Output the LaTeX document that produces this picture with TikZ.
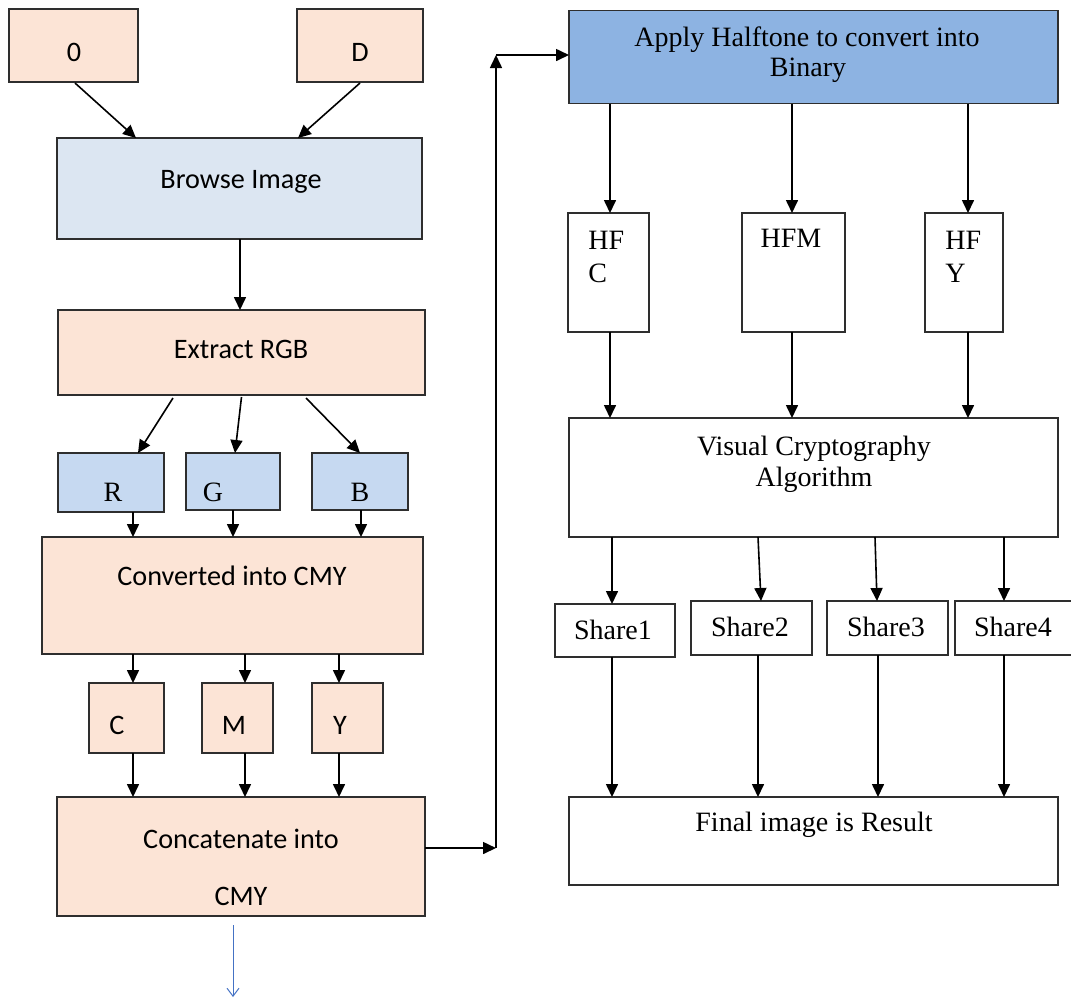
\documentclass[tikz,border=0pt]{standalone}
\usepackage{fontspec}
\setmainfont{Liberation Serif}
\newfontfamily\calfont{Carlito}
\usetikzlibrary{arrows.meta,calc}
\definecolor{peach}{HTML}{FCE4D6}
\definecolor{paleblue}{HTML}{DCE6F2}
\definecolor{rgbblue}{HTML}{C6D9F1}
\definecolor{applyblue}{HTML}{8DB3E2}
\definecolor{linkblue}{HTML}{4472C4}
\begin{document}
\begin{tikzpicture}[x=0.5pt,y=-0.5pt,
  box/.style={draw=black!82, line width=0.85pt, inner sep=0pt, outer sep=0pt},
  arr/.style={-{Triangle[length=6.5pt,width=6pt]}, line width=0.8pt, draw=black},
  ctxt/.style={anchor=base, inner sep=0pt, font=\calfont\fontsize{14.1}{16}\selectfont},
  ttxt/.style={anchor=base, inner sep=0pt, font=\fontsize{14}{16}\selectfont},
  ltxt/.style={anchor=base west, inner sep=0pt, font=\fontsize{14}{16}\selectfont}]
\useasboundingbox (0,0) rectangle (1071,998);
% ---------------- left column boxes
\node[box, fill=peach, minimum width=64.5pt, minimum height=36.5pt] (o) at (73.5,45.5) {};
\node[box, fill=peach, minimum width=63pt, minimum height=36.5pt] (d) at (360,45.5) {};
\node[box, fill=paleblue, minimum width=182.5pt, minimum height=50.5pt] (browse) at (239.5,188.5) {};
\node[box, fill=peach, minimum width=183.5pt, minimum height=42.5pt] (extract) at (241.5,352.5) {};
\node[box, fill=rgbblue, minimum width=53pt, minimum height=29.5pt] (r) at (111,482.5) {};
\node[box, fill=rgbblue, minimum width=47pt, minimum height=28.5pt] (g) at (233,481.5) {};
\node[box, fill=rgbblue, minimum width=48pt, minimum height=28.5pt] (b) at (360,481.5) {};
\node[box, fill=peach, minimum width=190.5pt, minimum height=58.5pt] (conv) at (232.5,595.5) {};
\node[box, fill=peach, minimum width=37.5pt, minimum height=35pt] (c) at (126.5,718) {};
\node[box, fill=peach, minimum width=35.5pt, minimum height=35pt] (m) at (237.5,718) {};
\node[box, fill=peach, minimum width=35.5pt, minimum height=35pt] (y) at (347.5,718) {};
\node[box, fill=peach, minimum width=184pt, minimum height=59.5pt] (concat) at (241,856.5) {};
% ---------------- right column boxes
\node[box, fill=applyblue, minimum width=244.5pt, minimum height=46.5pt] (apply) at (813.5,57) {};
\node[box, fill=white, minimum width=40.5pt, minimum height=59.5pt] (hfc) at (608.5,272.5) {};
\node[box, fill=white, minimum width=51.5pt, minimum height=59.5pt] (hfm) at (793.5,272.5) {};
\node[box, fill=white, minimum width=39pt, minimum height=59.5pt] (hfy) at (964,272.5) {};
\node[box, fill=white, minimum width=244.5pt, minimum height=59.5pt] (visual) at (813.5,477.5) {};
\node[box, fill=white, minimum width=60pt, minimum height=26.5pt] (s1) at (615,630.5) {};
\node[box, fill=white, minimum width=60.5pt, minimum height=27pt] (s2) at (751.5,628) {};
\node[box, fill=white, minimum width=60.5pt, minimum height=27pt] (s3) at (887.5,628) {};
\node[box, fill=white, minimum width=62.5pt, minimum height=27pt] (s4) at (1017.5,628) {};
\node[box, fill=white, minimum width=244.5pt, minimum height=44pt] (final) at (813.5,841) {};
% ---------------- texts
\node[ctxt] (to) at (74,61.5) {0};
\node[ctxt] (td) at (360,61.5) {D};
\node[ctxt] (tbrowse) at (241,188) {Browse Image};
\node[ctxt] (textract) at (241,358) {Extract RGB};
\node[ttxt] (tr) at (113,501) {R};
\node[ttxt] (tg) at (213,501) {G};
\node[ttxt] (tb) at (360,501) {B};
\node[ctxt] (tconv) at (232,585) {Converted into CMY};
\node[ctxt] (tc) at (117,734) {C};
\node[ctxt] (tm) at (234,734) {M};
\node[ctxt] (ty) at (340,734) {Y};
\node[ctxt] (tconcat1) at (241,848) {Concatenate into};
\node[ctxt] (tconcat2) at (241,905) {CMY};
\node[ttxt] (tapply1) at (807,46) {Apply Halftone to convert into};
\node[ttxt] (tapply2) at (808,76) {Binary};
\node[ltxt] (thfc1) at (588,249.5) {HF};
\node[ltxt] (thfc2) at (588,282) {C};
\node[ttxt] (thfm) at (791,247) {HFM};
\node[ltxt] (thfy1) at (945,249.5) {HF};
\node[ltxt] (thfy2) at (945,282) {Y};
\node[ttxt] (tvis1) at (814,455) {Visual Cryptography};
\node[ttxt] (tvis2) at (814,486) {Algorithm};
\node[ttxt] (ts1) at (613,639) {Share1};
\node[ttxt] (ts2) at (750,636) {Share2};
\node[ttxt] (ts3) at (886,636) {Share3};
\node[ttxt] (ts4) at (1013,636) {Share4};
\node[ttxt] (tfinal) at (814,831) {Final image is Result};
% ---------------- column coordinates
\coordinate (x0) at (240,0);
\coordinate (x1) at (133,0);
\coordinate (x2) at (233,0);
\coordinate (x3) at (361,0);
\coordinate (k1) at (245,0);
\coordinate (k2) at (339,0);
\coordinate (h1) at (610,0);
\coordinate (h2) at (792,0);
\coordinate (h3) at (968,0);
\coordinate (v1) at (612,0);
\coordinate (v2a) at (758,0);
\coordinate (v2b) at (761,0);
\coordinate (v3a) at (875,0);
\coordinate (v3b) at (877,0);
\coordinate (v4) at (1004,0);
\coordinate (f2) at (758,0);
\coordinate (f3) at (878,0);
\coordinate (corner1) at (496,848);
\coordinate (corner2) at (496,55);
\coordinate (blueend) at (233,997);
% ---------------- connectors left
\draw[arr] ($(o.south)+(1.5,1)$) -- ($(browse.north)+(-103.5,0)$);
\draw[arr] ($(d.south)+(0,1)$) -- ($(browse.north)+(58.5,0)$);
\draw[arr] (x0 |- browse.south) -- (x0 |- extract.north);
\draw[arr] ($(extract.south)+(-68.5,3)$) -- ($(r.north)+(27,0)$);
\draw[arr] ($(extract.south)+(0,2)$) -- ($(g.north)+(2,0)$);
\draw[arr] ($(extract.south)+(64.5,3)$) -- (b.north);
\draw[arr] (x1 |- r.south) -- (x1 |- conv.north);
\draw[arr] (x2 |- g.south) -- (x2 |- conv.north);
\draw[arr] (x3 |- b.south) -- (x3 |- conv.north);
\draw[arr] (x1 |- conv.south) -- (x1 |- c.north);
\draw[arr] (k1 |- conv.south) -- (k1 |- m.north);
\draw[arr] (k2 |- conv.south) -- (k2 |- y.north);
\draw[arr] (x1 |- c.south) -- (x1 |- concat.north);
\draw[arr] (k1 |- m.south) -- (k1 |- concat.north);
\draw[arr] (k2 |- y.south) -- (k2 |- concat.north);
\draw[-{Straight Barb[length=4pt,width=6pt]}, line width=0.5pt, draw=linkblue]
  ($(concat.south -| blueend)+(0,9)$) -- (blueend);
% ---------------- link to right column
\draw[arr] (corner1 -| concat.east) -- (corner1);
\draw[arr] (corner1) -- (corner2);
\draw[arr] (corner2) -- (corner2 -| apply.west);
% ---------------- connectors right
\draw[arr] (h1 |- apply.south) -- (h1 |- hfc.north);
\draw[arr] (h2 |- apply.south) -- (h2 |- hfm.north);
\draw[arr] (h3 |- apply.south) -- (h3 |- hfy.north);
\draw[arr] (h1 |- hfc.south) -- (h1 |- visual.north);
\draw[arr] (h2 |- hfm.south) -- (h2 |- visual.north);
\draw[arr] (h3 |- hfy.south) -- (h3 |- visual.north);
\draw[arr] (v1 |- visual.south) -- (v1 |- s1.north);
\draw[arr] (v2a |- visual.south) -- (v2b |- s2.north);
\draw[arr] (v3a |- visual.south) -- (v3b |- s3.north);
\draw[arr] (v4 |- visual.south) -- (v4 |- s4.north);
\draw[arr] (v1 |- s1.south) -- (v1 |- final.north);
\draw[arr] (f2 |- s2.south) -- (f2 |- final.north);
\draw[arr] (f3 |- s3.south) -- (f3 |- final.north);
\draw[arr] (v4 |- s4.south) -- (v4 |- final.north);
\end{tikzpicture}
\end{document}
